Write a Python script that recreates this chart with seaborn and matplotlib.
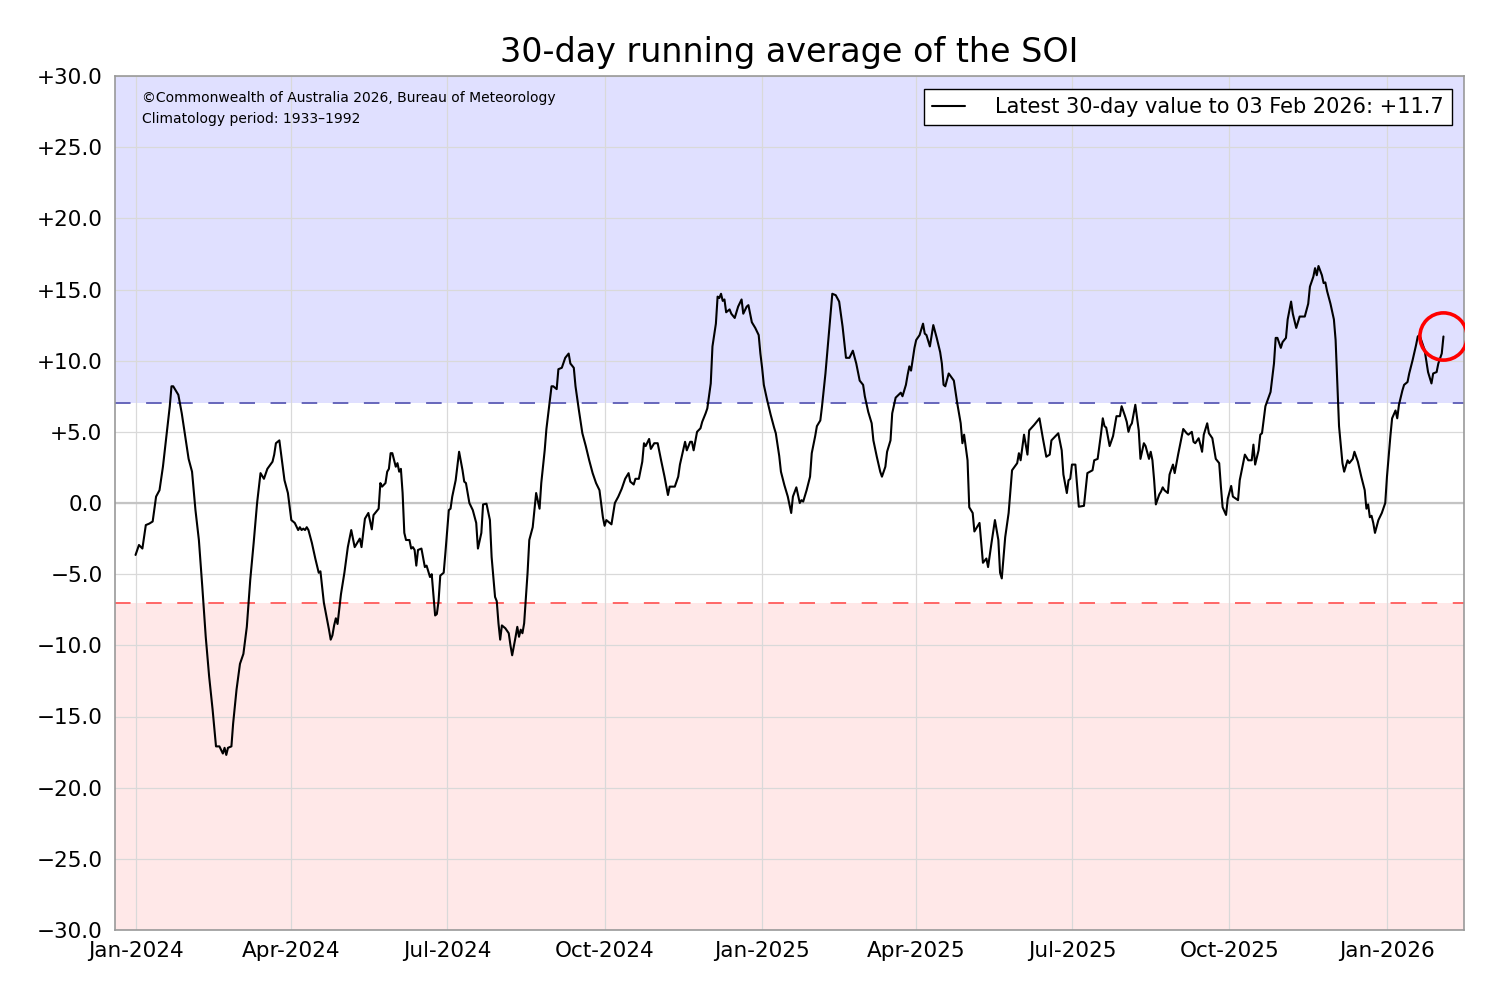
import matplotlib
matplotlib.use("Agg")
import numpy as np
import pandas as pd
import seaborn as sns
import matplotlib.pyplot as plt
import matplotlib.dates as mdates
from matplotlib.ticker import FuncFormatter, MultipleLocator

# ---------------- data ----------------
start_date = "2024-01-01"
last_label = "Latest 30-day value to 03 Feb 2026: +11.7"

day_offset = [
    0, 2, 4, 6, 8, 10, 12, 14, 16, 18, 20, 21, 22, 25, 27, 29, 31, 33, 35, 37,
    39, 41, 43, 45, 47, 49, 51, 52, 53, 54, 56, 57, 59, 61, 63, 65, 67, 69, 71, 73,
    75, 77, 80, 81, 82, 84, 87, 89, 91, 93, 95, 96, 97, 98, 99, 100, 101, 103, 105, 107,
    108, 110, 113, 114, 115, 116, 117, 118, 120, 122, 124, 126, 128, 130, 131, 132, 134, 136, 138, 139,
    142, 143, 144, 146, 147, 148, 149, 150, 152, 153, 154, 155, 156, 157, 158, 160, 161, 162, 163, 164,
    165, 167, 169, 170, 172, 173, 175, 176, 177, 178, 180, 181, 183, 184, 185, 187, 189, 191, 192, 193,
    194, 195, 197, 199, 200, 202, 203, 205, 207, 208, 210, 211, 212, 213, 214, 216, 218, 219, 220, 222,
    223, 224, 225, 226, 227, 229, 230, 232, 234, 236, 237, 239, 240, 242, 243, 244, 246, 247, 249, 251,
    253, 254, 256, 257, 259, 261, 263, 265, 267, 269, 271, 273, 274, 275, 278, 280, 282, 284, 286, 288,
    289, 291, 292, 294, 296, 297, 298, 300, 301, 303, 305, 307, 309, 311, 312, 315, 317, 318, 321, 322,
    324, 325, 326, 328, 330, 331, 333, 334, 336, 337, 339, 340, 341, 342, 343, 344, 345, 347, 348, 350,
    352, 354, 355, 357, 358, 360, 362, 364, 365, 366, 367, 369, 371, 373, 374, 376, 377, 379, 381, 383,
    384, 386, 388, 389, 390, 392, 394, 395, 397, 398, 400, 401, 403, 405, 407, 409, 411, 413, 415, 417,
    419, 421, 423, 425, 426, 428, 430, 431, 433, 435, 436, 438, 439, 441, 442, 444, 447, 448, 450, 451,
    452, 453, 455, 456, 458, 460, 461, 462, 464, 466, 468, 470, 471, 472, 473, 475, 478, 480, 482, 483,
    484, 486, 487, 489, 490, 493, 495, 497, 498, 500, 502, 504, 505, 506, 508, 510, 512, 515, 516, 517,
    519, 521, 522, 525, 528, 530, 532, 534, 535, 539, 541, 542, 544, 545, 546, 547, 549, 551, 554, 556,
    559, 560, 562, 564, 565, 566, 567, 569, 571, 573, 575, 576, 578, 579, 580, 581, 582, 584, 586, 587,
    589, 590, 592, 593, 594, 595, 596, 598, 599, 600, 601, 603, 604, 606, 607, 609, 612, 614, 615, 617,
    618, 619, 621, 622, 623, 624, 626, 627, 629, 631, 633, 634, 635, 637, 638, 640, 641, 644, 645, 648,
    650, 652, 653, 654, 656, 657, 658, 660, 663, 665, 666, 667, 669, 670, 672, 673, 675, 676, 678, 680,
    683, 685, 686, 688, 689, 690, 691, 693, 694, 695, 696, 698, 700, 701, 702, 703, 705, 706, 708, 709,
    711, 712, 714, 716, 718, 719, 720, 721, 722, 723, 724, 726, 728, 730, 731, 733, 734, 736, 737, 738,
    740, 741, 743, 744, 746, 748, 749, 750, 753, 755, 756, 757, 758, 760, 761, 763, 764,
]

soi = [
    -3.65, -2.95, -3.2, -1.55, -1.45, -1.3, 0.45, 0.9, 2.55, 4.7, 6.8, 8.2, 8.2, 7.6, 6.3, 4.7, 3.1, 2.2, -0.5, -2.6,
    -5.9, -9.4, -12.2, -14.5, -17.1, -17.1, -17.6, -17.2, -17.7, -17.2, -17.1, -15.5, -13.1, -11.3, -10.6, -8.7, -5.4, -2.8, 0.0, 2.1,
    1.7, 2.4, 2.9, 3.4, 4.2, 4.4, 1.6, 0.7, -1.2, -1.4, -1.9, -1.7, -1.9, -1.8, -1.9, -1.7, -1.9, -2.8, -3.9, -4.9,
    -4.8, -7.0, -8.9, -9.6, -9.3, -8.6, -8.1, -8.5, -6.4, -4.9, -3.1, -1.9, -3.1, -2.7, -2.5, -3.1, -1.1, -0.7, -1.85, -0.85,
    -0.4, 1.4, 1.15, 1.4, 2.2, 2.4, 3.5, 3.5, 2.55, 2.8, 2.2, 2.4, 0.7, -2.1, -2.6, -2.6, -3.2, -3.1, -3.3, -4.4,
    -3.3, -3.2, -4.5, -4.4, -5.2, -5.0, -7.9, -7.8, -6.9, -5.1, -4.9, -3.5, -0.5, -0.4, 0.45, 1.6, 3.6, 2.3, 1.5, 1.4,
    0.7, 0.0, -0.5, -1.4, -3.2, -2.1, -0.1, -0.05, -1.2, -3.8, -6.6, -6.9, -8.45, -9.6, -8.6, -8.8, -9.15, -10.0, -10.7, -9.4,
    -8.7, -9.4, -8.9, -9.15, -8.45, -4.9, -2.6, -1.7, 0.7, -0.4, 1.4, 3.7, 5.2, 7.2, 8.2, 8.2, 8.0, 9.4, 9.5, 10.2,
    10.5, 9.8, 9.5, 8.2, 6.5, 4.9, 4.0, 3.0, 2.1, 1.4, 0.9, -1.0, -1.6, -1.2, -1.5, 0.0, 0.45, 1.0, 1.7, 2.1,
    1.5, 1.3, 1.7, 1.7, 2.9, 4.2, 4.0, 4.5, 3.8, 4.2, 4.2, 3.0, 1.85, 0.56, 1.15, 1.15, 1.85, 2.7, 4.3, 3.7,
    4.3, 4.3, 3.7, 5.0, 5.25, 5.7, 6.3, 6.65, 8.4, 11.0, 12.6, 14.5, 14.4, 14.7, 14.2, 14.3, 13.4, 13.6, 13.3, 13.0,
    13.8, 14.3, 13.3, 13.8, 13.9, 12.7, 12.3, 11.8, 10.5, 9.5, 8.3, 7.2, 6.2, 5.3, 4.9, 3.3, 2.2, 1.26, 0.45, -0.7,
    0.45, 1.1, 0.0, 0.2, 0.1, 0.9, 1.85, 3.5, 4.7, 5.4, 5.8, 6.8, 9.1, 11.9, 14.7, 14.6, 14.15, 12.4, 10.2, 10.2,
    10.7, 9.8, 8.6, 8.3, 7.5, 6.4, 5.6, 4.4, 3.25, 2.2, 1.85, 2.55, 3.6, 4.4, 6.3, 7.4, 7.75, 7.5, 8.3, 9.0,
    9.6, 9.3, 10.9, 11.45, 11.8, 12.6, 11.9, 11.8, 11.0, 12.5, 11.6, 10.6, 9.8, 8.3, 8.2, 9.1, 8.6, 7.0, 5.6, 4.2,
    4.8, 3.0, -0.3, -0.7, -2.0, -1.4, -4.2, -3.9, -4.5, -2.8, -1.2, -2.6, -4.9, -5.3, -2.4, -0.7, 2.3, 2.8, 3.5, 3.0,
    4.8, 3.4, 5.1, 5.5, 5.95, 4.55, 3.25, 3.4, 4.4, 4.9, 3.7, 2.0, 0.7, 1.6, 1.7, 2.7, 2.7, -0.26, -0.2, 2.1,
    2.3, 3.0, 3.1, 4.9, 5.95, 5.4, 5.3, 4.0, 4.7, 6.1, 6.1, 6.8, 6.1, 5.7, 5.0, 5.4, 5.6, 6.9, 5.1, 3.1,
    4.2, 4.0, 3.1, 3.6, 3.0, 1.6, -0.1, 0.6, 0.8, 1.1, 0.9, 0.7, 2.0, 2.7, 2.1, 3.4, 5.2, 4.9, 4.8, 5.0,
    4.3, 4.2, 4.55, 4.1, 3.6, 4.8, 5.6, 4.9, 4.55, 3.1, 2.8, 1.15, -0.3, -0.84, 0.3, 1.2, 0.45, 0.2, 1.6, 3.4,
    3.0, 3.0, 4.1, 2.7, 3.7, 4.8, 4.9, 6.8, 7.8, 9.8, 11.6, 11.6, 10.9, 11.3, 11.6, 12.9, 14.15, 13.3, 12.3, 13.1,
    13.1, 14.0, 15.2, 15.9, 16.5, 16.0, 16.65, 16.0, 15.45, 15.5, 14.9, 14.0, 12.9, 11.45, 8.4, 5.4, 2.8, 2.2, 3.0, 2.8,
    3.1, 3.6, 2.9, 1.85, 0.9, -0.4, -0.1, -1.0, -0.9, -1.4, -2.1, -1.2, -0.7, 0.0, 1.85, 4.7, 5.95, 6.5, 5.95, 6.9,
    7.9, 8.3, 8.5, 9.1, 10.05, 11.1, 11.7, 11.8, 10.75, 9.2, 8.8, 8.4, 9.1, 9.2, 9.8, 10.5, 11.7,
]

y_ticks = [-30, -25, -20, -15, -10, -5, 0, 5, 10, 15, 20, 25, 30]
la_nina_threshold = 7.0
el_nino_threshold = -7.0
title_text = "30-day running average of the SOI"
credit_text = "\u00a9Commonwealth of Australia 2026, Bureau of Meteorology"
clim_text = "Climatology period: 1933\u20131992"

# ---------------- build frame ----------------
dates = pd.to_datetime(start_date) + pd.to_timedelta(day_offset, unit="D")
df = pd.DataFrame({"date": dates, "soi": soi})

sns.set_theme(style="white")
plt.rcParams["font.family"] = ["DejaVu Sans"]
plt.rcParams["text.color"] = "black"
plt.rcParams["axes.labelcolor"] = "black"
plt.rcParams["axes.titlecolor"] = "black"

fig = plt.figure(figsize=(15, 10), dpi=100)
ax = fig.add_axes([115 / 1500, 70 / 1000, 1349 / 1500, 854 / 1000])

# background bands
ax.axhspan(la_nina_threshold, max(y_ticks), color="#e0e0ff", zorder=0, lw=0)
ax.axhspan(min(y_ticks), el_nino_threshold, color="#ffe8e8", zorder=0, lw=0)

ax.set_axisbelow(True)
ax.grid(True, color="#d9d9d9", lw=0.9)
ax.axhline(0, color="#c4c4c4", lw=1.6, zorder=0.7)
ax.axhline(la_nina_threshold, color="#6666bb", lw=1.4, dashes=(8, 8), zorder=1.2)
ax.axhline(el_nino_threshold, color="#ff6666", lw=1.4, dashes=(8, 8), zorder=1.2)

sns.lineplot(data=df, x="date", y="soi", color="black", lw=1.5, ax=ax,
             label=last_label, zorder=3)

# highlight last value
ax.plot(df["date"].iloc[-1], df["soi"].iloc[-1], marker="o", ms=34, mfc="none",
        mec="red", mew=2.6, zorder=4, linestyle="none")

pad = pd.Timedelta(days=12)
ax.set_xlim(df["date"].iloc[0] - pad, df["date"].iloc[-1] + pad)
ax.set_ylim(min(y_ticks), max(y_ticks))
ax.set_yticks(y_ticks)


def yfmt(v, pos):
    if v > 0:
        return f"+{v:.1f}"
    if v < 0:
        return f"\u2212{abs(v):.1f}"
    return "0.0"


ax.yaxis.set_major_formatter(FuncFormatter(yfmt))
ax.xaxis.set_major_locator(mdates.MonthLocator(bymonth=[1, 4, 7, 10]))
ax.xaxis.set_major_formatter(mdates.DateFormatter("%b-%Y"))

ax.set_xlabel("")
ax.set_ylabel("")
ax.tick_params(axis="both", direction="in", length=6, width=1.2, color="#999999",
               labelsize=15.5, labelcolor="black")
ax.tick_params(axis="x", pad=8)
ax.tick_params(axis="y", pad=9)
for s in ax.spines.values():
    s.set_color("#999999")
    s.set_linewidth(1.2)

ax.set_title(title_text, fontsize=24, pad=10, color="black")

ax.text(0.02, 0.974, credit_text, transform=ax.transAxes, fontsize=10,
        va="center", ha="left", color="black")
ax.text(0.02, 0.950, clim_text, transform=ax.transAxes, fontsize=10,
        va="center", ha="left", color="black")

leg = ax.legend(loc="upper right", frameon=True, fancybox=False, edgecolor="black",
                framealpha=1, fontsize=15, borderaxespad=0.6, handlelength=1.6,
                handletextpad=1.4, borderpad=0.4)
leg.get_frame().set_linewidth(1.0)
for t in leg.get_texts():
    t.set_color("black")

fig.savefig("out.png", dpi=100)
